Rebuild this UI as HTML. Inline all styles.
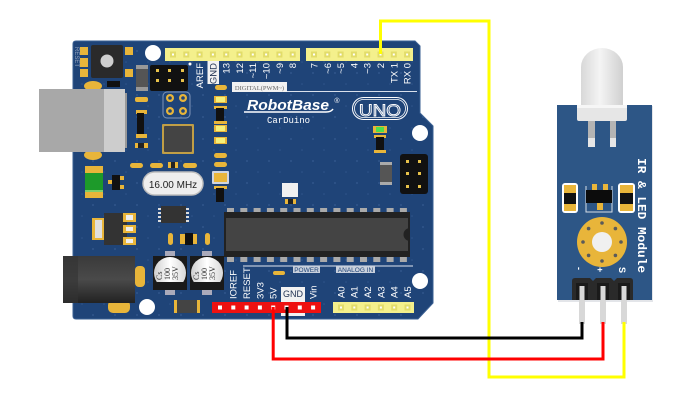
<!DOCTYPE html>
<html><head><meta charset="utf-8"><style>
html,body{margin:0;padding:0;background:#fff;}
svg{display:block;}
</style></head><body>
<svg width="700" height="409" viewBox="0 0 700 409" xmlns="http://www.w3.org/2000/svg" font-family="Liberation Sans, sans-serif">
<defs>
<linearGradient id="jack" x1="0" y1="0" x2="0" y2="1"><stop offset="0" stop-color="#3a3a3a"/><stop offset="0.5" stop-color="#4a4a4a"/><stop offset="1" stop-color="#222"/></linearGradient>
<linearGradient id="led" x1="0" y1="0" x2="1" y2="0"><stop offset="0" stop-color="#d8d8d8"/><stop offset="0.45" stop-color="#f4f4f4"/><stop offset="1" stop-color="#d0d0d0"/></linearGradient>
<linearGradient id="cap" x1="0" y1="0" x2="1" y2="0"><stop offset="0" stop-color="#cfcfcf"/><stop offset="0.5" stop-color="#ffffff"/><stop offset="1" stop-color="#d8d8d8"/></linearGradient>
<pattern id="dots" width="22" height="22" patternUnits="userSpaceOnUse"><circle cx="5" cy="7" r="1" fill="#3b6198"/><circle cx="16" cy="18" r="0.8" fill="#3b6198"/></pattern>
</defs>

<!-- Arduino board -->
<path d="M76,41 L415,41 L420,46 L420,113 L433,126 L433,303 L418,319 L76,319 Q73,319 73,316 L73,44 Q73,41 76,41 Z" fill="#1f4478" stroke="#3a5f92" stroke-width="1"/>
<path d="M76,41 L415,41 L420,46 L420,113 L433,126 L433,303 L418,319 L76,319 Q73,319 73,316 L73,44 Q73,41 76,41 Z" fill="url(#dots)" opacity="0.6"/>

<!-- mounting holes -->
<circle cx="153" cy="53" r="8" fill="#fff"/>
<circle cx="420" cy="133" r="8" fill="#fff"/>
<circle cx="147" cy="307" r="8" fill="#fff"/>
<circle cx="420" cy="281" r="8" fill="#fff"/>

<!-- reset button -->
<text transform="translate(75,47) rotate(90)" font-size="6" fill="#9aa8c0">RESET</text>
<rect x="80" y="47" width="8" height="8" fill="#e8b53a"/>
<rect x="80" y="58" width="8" height="9" fill="#e8b53a"/>
<rect x="80" y="69" width="8" height="8" fill="#e8b53a"/>
<rect x="125" y="47" width="8" height="8" fill="#e8b53a"/>
<rect x="125" y="69" width="8" height="8" fill="#e8b53a"/>
<rect x="91" y="45" width="32" height="33" rx="2" fill="#2a2a2a"/>
<circle cx="107" cy="61" r="6.5" fill="#cfcfcf"/>

<!-- diode near ICSP -->
<rect x="136" y="65" width="12" height="26" rx="1" fill="#555"/>
<rect x="136" y="65" width="12" height="4" fill="#999"/>
<rect x="136" y="87" width="12" height="4" fill="#999"/>

<!-- ICSP top-left -->
<rect x="150" y="65" width="38" height="26" rx="2" fill="#111"/>
<g fill="#e8c24a"><rect x="156" y="69" width="3" height="3"/><rect x="168" y="69" width="3" height="3"/><rect x="181" y="69" width="3" height="3"/>
<rect x="156" y="79" width="3" height="3"/><rect x="168" y="79" width="3" height="3"/><rect x="181" y="79" width="3" height="3"/></g>
<circle cx="190" cy="64" r="1.5" fill="#fff"/>

<!-- 2x2 ring pads -->
<rect x="163" y="92" width="27" height="26" rx="4" fill="none" stroke="#7f95b8" stroke-width="1"/>
<g fill="#e8b53a"><circle cx="170" cy="98" r="4"/><circle cx="183" cy="98" r="4"/><circle cx="170" cy="111" r="4"/><circle cx="183" cy="111" r="4"/></g>
<g fill="#1f4478"><circle cx="170" cy="98" r="1.8"/><circle cx="183" cy="98" r="1.8"/><circle cx="170" cy="111" r="1.8"/><circle cx="183" cy="111" r="1.8"/></g>

<!-- USB -->
<ellipse cx="93" cy="86" rx="9" ry="5" fill="#e8b53a"/>
<ellipse cx="93" cy="155" rx="9" ry="5" fill="#e8b53a"/>
<rect x="39" y="89" width="66" height="63" fill="#a8a8a8"/>
<rect x="104" y="89" width="21" height="63" fill="#cdcdcd"/>
<rect x="125" y="93" width="2" height="55" fill="#999"/>
<rect x="107" y="81" width="13" height="6" fill="#111"/>

<!-- left SMDs -->
<rect x="135" y="97" width="13" height="5" rx="2" fill="#e8b53a"/>
<rect x="136" y="110" width="11" height="4" fill="#e8b53a"/>
<rect x="137" y="113" width="7" height="23" fill="#111"/>
<rect x="136" y="134" width="11" height="4" fill="#e8b53a"/>
<rect x="135" y="143" width="13" height="5" fill="#e8b53a"/>
<rect x="138" y="143" width="6" height="5" fill="#222"/>

<!-- QFN chip -->
<rect x="162" y="124" width="32" height="30" rx="1" fill="#e8b53a" opacity="0.8"/>
<rect x="164" y="126" width="28" height="26" rx="1" fill="#444"/>

<!-- row of resistors -->
<rect x="130" y="163" width="13" height="5" rx="2.5" fill="#e8b53a"/>
<rect x="150" y="163" width="13" height="5" rx="2.5" fill="#e8b53a"/>
<rect x="168" y="162" width="10" height="6" fill="#e8b53a"/><rect x="171" y="162" width="4" height="6" fill="#222"/>
<rect x="183" y="163" width="14" height="5" rx="2.5" fill="#e8b53a"/>

<!-- crystal -->
<rect x="143" y="172" width="60" height="23" rx="11.5" fill="#eeeeee" stroke="#bdbdbd" stroke-width="1.5"/>
<text x="173" y="188" font-size="10" fill="#222" text-anchor="middle">16.00 MHz</text>

<!-- fuse -->
<rect x="85" y="166" width="18" height="32" fill="#e8b53a"/>
<rect x="85" y="173" width="18" height="17" fill="#1d9a2a"/>
<rect x="85" y="190" width="18" height="2" fill="#7fd06a"/>
<!-- small transistor -->
<rect x="112" y="175" width="8" height="15" fill="#111"/>
<rect x="120" y="176" width="4" height="4" fill="#e8b53a"/><rect x="120" y="185" width="4" height="4" fill="#e8b53a"/>
<rect x="108" y="180" width="4" height="4" fill="#e8b53a"/>

<!-- right vertical column -->
<rect x="215" y="85" width="12" height="5" rx="2.5" fill="#e8b53a"/>
<rect x="214" y="96" width="13" height="7" fill="#e8b53a"/><rect x="216" y="97" width="9" height="5" fill="#f5f07a"/>
<rect x="214" y="106" width="13" height="3" fill="#e8b53a"/><rect x="216" y="108" width="8" height="15" fill="#111"/><rect x="214" y="121" width="13" height="3" fill="#e8b53a"/>
<rect x="214" y="125" width="13" height="7" fill="#e8b53a"/><rect x="216" y="126" width="9" height="5" fill="#f5f07a"/>
<rect x="214" y="137" width="13" height="7" fill="#e8b53a"/><rect x="216" y="138" width="9" height="5" fill="#f5f07a"/>
<rect x="214" y="153" width="13" height="5" rx="2.5" fill="#e8b53a"/>
<rect x="214" y="162" width="13" height="5" rx="2.5" fill="#e8b53a"/>
<rect x="212" y="171" width="17" height="13" rx="1" fill="#cfd5e0"/><rect x="214" y="173" width="13" height="9" fill="#e8b53a"/>
<rect x="214" y="186" width="13" height="3" fill="#e8b53a"/><rect x="216" y="188" width="8" height="14" fill="#111"/>

<!-- top headers -->
<rect x="165" y="48" width="135" height="13" fill="#f4f08c"/>
<rect x="306" y="48" width="107" height="13" fill="#f4f08c"/>
<g fill="#e2dc6a">
<rect x="170" y="51.5" width="6" height="6"/><rect x="183.3" y="51.5" width="6" height="6"/><rect x="196.6" y="51.5" width="6" height="6"/><rect x="209.9" y="51.5" width="6" height="6"/><rect x="223.2" y="51.5" width="6" height="6"/><rect x="236.5" y="51.5" width="6" height="6"/><rect x="249.8" y="51.5" width="6" height="6"/><rect x="263.1" y="51.5" width="6" height="6"/><rect x="276.4" y="51.5" width="6" height="6"/><rect x="289.7" y="51.5" width="6" height="6"/>
<rect x="311" y="51.5" width="6" height="6"/><rect x="324.3" y="51.5" width="6" height="6"/><rect x="337.6" y="51.5" width="6" height="6"/><rect x="350.9" y="51.5" width="6" height="6"/><rect x="364.2" y="51.5" width="6" height="6"/><rect x="377.5" y="51.5" width="6" height="6"/><rect x="390.8" y="51.5" width="6" height="6"/><rect x="404.1" y="51.5" width="6" height="6"/>
</g>
<g fill="#fff">
<rect x="172" y="53.5" width="2" height="2"/><rect x="185.3" y="53.5" width="2" height="2"/><rect x="198.6" y="53.5" width="2" height="2"/><rect x="211.9" y="53.5" width="2" height="2"/><rect x="225.2" y="53.5" width="2" height="2"/><rect x="238.5" y="53.5" width="2" height="2"/><rect x="251.8" y="53.5" width="2" height="2"/><rect x="265.1" y="53.5" width="2" height="2"/><rect x="278.4" y="53.5" width="2" height="2"/><rect x="291.7" y="53.5" width="2" height="2"/>
<rect x="313" y="53.5" width="2" height="2"/><rect x="326.3" y="53.5" width="2" height="2"/><rect x="339.6" y="53.5" width="2" height="2"/><rect x="352.9" y="53.5" width="2" height="2"/><rect x="366.2" y="53.5" width="2" height="2"/><rect x="379.5" y="53.5" width="2" height="2"/><rect x="392.8" y="53.5" width="2" height="2"/><rect x="406.1" y="53.5" width="2" height="2"/>
</g>

<!-- top labels -->
<rect x="207.5" y="61" width="11.5" height="23" fill="#f2f2f2"/>
<g font-size="9.5" fill="#fff" text-anchor="end">
<text transform="translate(203,63) rotate(-90)">AREF</text>
<text transform="translate(216.5,63) rotate(-90)" fill="#1f3050">GND</text>
<text transform="translate(229.5,63) rotate(-90)">13</text>
<text transform="translate(243,63) rotate(-90)">12</text>
<text transform="translate(256,63) rotate(-90)">~11</text>
<text transform="translate(269.5,63) rotate(-90)">~10</text>
<text transform="translate(283,63) rotate(-90)">~9</text>
<text transform="translate(296,63) rotate(-90)">8</text>
<text transform="translate(317.5,63) rotate(-90)">7</text>
<text transform="translate(331,63) rotate(-90)">~6</text>
<text transform="translate(344,63) rotate(-90)">~5</text>
<text transform="translate(357.5,63) rotate(-90)">4</text>
<text transform="translate(370.5,63) rotate(-90)">~3</text>
<text transform="translate(384,63) rotate(-90)">2</text>
<text transform="translate(397.5,63) rotate(-90)">TX 1</text>
<text transform="translate(410.5,63) rotate(-90)">RX 0</text>
</g>

<!-- DIGITAL label and line -->
<rect x="232" y="82" width="55" height="10" fill="#f2f2f2"/>
<text x="259.5" y="90" font-size="6.5" font-family="Liberation Serif, serif" fill="#666" text-anchor="middle">DIGITAL(PWM~)</text>
<line x1="287" y1="91.5" x2="417" y2="91.5" stroke="#d8e0ec" stroke-width="1"/>

<!-- logo -->
<text x="247" y="110" font-size="14.5" font-weight="bold" font-style="italic" fill="#fff" textLength="82" lengthAdjust="spacingAndGlyphs">RobotBase</text>
<path d="M244,112 L326,112 Q331,112 333,109" fill="none" stroke="#fff" stroke-width="1.5"/>
<text x="337" y="103" font-size="7" fill="#fff" text-anchor="middle">®</text>
<text x="267" y="123" font-size="9" font-family="Liberation Mono, monospace" fill="#fff" textLength="43">CarDuino</text>
<rect x="352.5" y="97.5" width="55" height="22" rx="11" fill="none" stroke="#fff" stroke-width="1"/>
<rect x="354.5" y="99.5" width="51" height="18" rx="9" fill="none" stroke="#fff" stroke-width="0.8"/>
<text x="380" y="116" font-size="17" fill="none" stroke="#fff" stroke-width="0.9" text-anchor="middle" textLength="42" lengthAdjust="spacingAndGlyphs">UNO</text>

<!-- green LED and parts on right -->
<rect x="373" y="126" width="14" height="7" fill="#e8b53a"/><rect x="376" y="127" width="8" height="5" fill="#4ee04a"/>
<rect x="374" y="135" width="12" height="3" fill="#e8b53a"/><rect x="376" y="137" width="8" height="14" fill="#111"/><rect x="374" y="150" width="12" height="3" fill="#e8b53a"/>
<rect x="380" y="162" width="12" height="23" rx="1" fill="#555"/><rect x="380" y="162" width="12" height="3" fill="#aaa"/><rect x="380" y="182" width="12" height="3" fill="#aaa"/>
<!-- right ICSP -->
<rect x="400" y="154" width="28" height="40" rx="3" fill="#111"/>
<g fill="#e8c24a"><rect x="406" y="160" width="3" height="3"/><rect x="418" y="160" width="3" height="3"/><rect x="406" y="172" width="3" height="3"/><rect x="418" y="172" width="3" height="3"/><rect x="406" y="185" width="3" height="3"/><rect x="418" y="185" width="3" height="3"/></g>

<!-- white square -->
<rect x="282" y="183" width="16" height="14" fill="#f0f0f0"/>
<rect x="285" y="199" width="11" height="5" fill="#e8b53a"/><rect x="288" y="199" width="5" height="5" fill="#222"/>

<!-- voltage regulator -->
<rect x="92" y="218" width="14" height="22" fill="#e8b53a"/>
<rect x="95" y="220" width="7" height="18" fill="#e0e0e0"/>
<rect x="104" y="213" width="23" height="32" fill="#333"/>
<rect x="123" y="213" width="13" height="9" fill="#e8b53a"/><rect x="126" y="215" width="7" height="5" fill="#eee"/>
<rect x="123" y="225" width="13" height="8" fill="#e8b53a"/><rect x="126" y="227" width="7" height="4" fill="#eee"/>
<rect x="123" y="237" width="13" height="8" fill="#e8b53a"/><rect x="126" y="239" width="7" height="4" fill="#eee"/>

<!-- SOIC-8 -->
<g fill="#ddd"><rect x="158" y="208" width="4" height="2"/><rect x="158" y="212" width="4" height="2"/><rect x="158" y="216" width="4" height="2"/><rect x="158" y="220" width="4" height="2"/>
<rect x="185" y="208" width="4" height="2"/><rect x="185" y="212" width="4" height="2"/><rect x="185" y="216" width="4" height="2"/><rect x="185" y="220" width="4" height="2"/></g>
<rect x="161" y="206" width="25" height="17" fill="#333"/>
<!-- small parts -->
<rect x="168" y="233" width="5" height="12" rx="2.5" fill="#e8b53a"/>
<rect x="180" y="234" width="17" height="10" fill="#e8b53a"/><rect x="185" y="233" width="8" height="12" fill="#111"/>
<rect x="205" y="233" width="5" height="12" rx="2.5" fill="#e8b53a"/>

<!-- main IC -->
<g fill="#aaa">
<rect x="227" y="208" width="7" height="7"/><rect x="240.3" y="208" width="7" height="7"/><rect x="253.6" y="208" width="7" height="7"/><rect x="266.9" y="208" width="7" height="7"/><rect x="280.2" y="208" width="7" height="7"/><rect x="293.5" y="208" width="7" height="7"/><rect x="306.8" y="208" width="7" height="7"/><rect x="320.1" y="208" width="7" height="7"/><rect x="333.4" y="208" width="7" height="7"/><rect x="346.7" y="208" width="7" height="7"/><rect x="360" y="208" width="7" height="7"/><rect x="373.3" y="208" width="7" height="7"/><rect x="386.6" y="208" width="7" height="7"/><rect x="399.9" y="208" width="7" height="7"/>
<rect x="227" y="255" width="7" height="7"/><rect x="240.3" y="255" width="7" height="7"/><rect x="253.6" y="255" width="7" height="7"/><rect x="266.9" y="255" width="7" height="7"/><rect x="280.2" y="255" width="7" height="7"/><rect x="293.5" y="255" width="7" height="7"/><rect x="306.8" y="255" width="7" height="7"/><rect x="320.1" y="255" width="7" height="7"/><rect x="333.4" y="255" width="7" height="7"/><rect x="346.7" y="255" width="7" height="7"/><rect x="360" y="255" width="7" height="7"/><rect x="373.3" y="255" width="7" height="7"/><rect x="386.6" y="255" width="7" height="7"/><rect x="399.9" y="255" width="7" height="7"/>
</g>
<rect x="224" y="212" width="186" height="45" fill="#222"/>
<rect x="226" y="218" width="182" height="33" fill="#444"/>
<path d="M410,228 a6,6 0 0 0 0,13 Z" fill="#222"/>

<!-- POWER / ANALOG IN line -->
<line x1="243" y1="266" x2="413" y2="266" stroke="#e0e6f0" stroke-width="1"/>
<rect x="293" y="266" width="27" height="7" fill="#c8d0dc"/>
<text x="306.5" y="272" font-size="6.5" fill="#1f4478" text-anchor="middle">POWER</text>
<rect x="336" y="266" width="39" height="7" fill="#c8d0dc"/>
<text x="355.5" y="272" font-size="6.5" fill="#1f4478" text-anchor="middle">ANALOG IN</text>
<rect x="273" y="271" width="12" height="4" rx="2" fill="#e8b53a"/>

<!-- power jack -->
<rect x="135" y="266" width="10" height="21" rx="4" fill="#e8b53a"/>
<rect x="108" y="300" width="22" height="13" rx="5" fill="#e8b53a"/>
<rect x="63" y="256" width="72" height="47" fill="url(#jack)"/>
<rect x="63" y="256" width="15" height="47" fill="#333" opacity="0.6"/>

<!-- capacitors -->
<g>
<rect x="165" y="251" width="10" height="5" fill="#aab"/><rect x="165" y="290" width="10" height="5" fill="#aab"/>
<rect x="153" y="256" width="34" height="34" fill="#1a1a1a"/>
<circle cx="170" cy="273" r="16" fill="url(#cap)"/>
<path d="M156.5,282 A16,16 0 0 0 183.5,282 Z" fill="#1a1a1a"/>
<g font-family="Liberation Serif, serif" font-size="8" fill="#333">
<text transform="translate(162,280) rotate(-90)">Cs</text>
<text transform="translate(170,280) rotate(-90)">100</text>
<text transform="translate(178,280) rotate(-90)">35V</text></g>
</g>
<g>
<rect x="202" y="251" width="10" height="5" fill="#aab"/><rect x="202" y="290" width="10" height="5" fill="#aab"/>
<rect x="190" y="256" width="34" height="34" fill="#1a1a1a"/>
<circle cx="207" cy="273" r="16" fill="url(#cap)"/>
<path d="M193.5,282 A16,16 0 0 0 220.5,282 Z" fill="#1a1a1a"/>
<g font-family="Liberation Serif, serif" font-size="8" fill="#333">
<text transform="translate(199,280) rotate(-90)">Cs</text>
<text transform="translate(207,280) rotate(-90)">100</text>
<text transform="translate(215,280) rotate(-90)">35V</text></g>
</g>

<!-- bottom diode -->
<rect x="174" y="300" width="26" height="13" fill="#444"/>
<rect x="174" y="300" width="3" height="13" fill="#e8b53a"/><rect x="197" y="300" width="3" height="13" fill="#e8b53a"/>

<!-- power labels -->
<rect x="281" y="287" width="24" height="29" fill="#f2f2f2"/>
<text x="293" y="297" font-size="9" fill="#1f3050" text-anchor="middle">GND</text>
<g font-size="9.5" fill="#fff">
<text transform="translate(236.5,299) rotate(-90)">IOREF</text>
<text transform="translate(250,299) rotate(-90)">RESET</text>
<text transform="translate(263.5,299) rotate(-90)">3V3</text>
<text transform="translate(276.5,299) rotate(-90)">5V</text>
<text transform="translate(316.5,299) rotate(-90)">Vin</text>
<text transform="translate(344.5,298) rotate(-90)">A0</text>
<text transform="translate(357.5,298) rotate(-90)">A1</text>
<text transform="translate(371,298) rotate(-90)">A2</text>
<text transform="translate(384.5,298) rotate(-90)">A3</text>
<text transform="translate(397.5,298) rotate(-90)">A4</text>
<text transform="translate(411,298) rotate(-90)">A5</text>
</g>

<!-- power header -->
<rect x="212" y="302" width="109" height="11" fill="#ee1111"/>
<g fill="#fff">
<rect x="218" y="305.5" width="4" height="4"/><rect x="231.3" y="305.5" width="4" height="4"/><rect x="244.6" y="305.5" width="4" height="4"/><rect x="257.9" y="305.5" width="4" height="4"/><rect x="271.2" y="305.5" width="4" height="4"/><rect x="284.5" y="305.5" width="4" height="4"/><rect x="297.8" y="305.5" width="4" height="4"/><rect x="311.1" y="305.5" width="4" height="4"/>
</g>
<!-- analog header -->
<rect x="333" y="302" width="81" height="11" fill="#f4f08c"/>
<g fill="#e2dc6a"><rect x="338" y="304.5" width="6" height="6"/><rect x="351.3" y="304.5" width="6" height="6"/><rect x="364.6" y="304.5" width="6" height="6"/><rect x="377.9" y="304.5" width="6" height="6"/><rect x="391.2" y="304.5" width="6" height="6"/><rect x="404.5" y="304.5" width="6" height="6"/></g>
<g fill="#fff"><rect x="340" y="306.5" width="2" height="2"/><rect x="353.3" y="306.5" width="2" height="2"/><rect x="366.6" y="306.5" width="2" height="2"/><rect x="379.9" y="306.5" width="2" height="2"/><rect x="393.2" y="306.5" width="2" height="2"/><rect x="406.5" y="306.5" width="2" height="2"/></g>

<!-- IR module -->
<rect x="558" y="106" width="95" height="196" fill="#c8ccd4" opacity="0.5"/>
<rect x="557" y="105" width="95" height="195" fill="#2d5686"/>
<!-- LED legs -->
<path d="M588,121 L588,144 Q588,147 591,147 L595,147 L595,121 Z" fill="#b4b4b4"/>
<rect x="588" y="138" width="7" height="9" fill="#e6e6e6"/>
<path d="M610,121 L610,147 L616,147 L616,121 Z" fill="#b4b4b4"/>
<rect x="610" y="138" width="6" height="9" fill="#e6e6e6"/>
<!-- LED body -->
<path d="M581,107 L581,67 A21,19 0 0 1 623,67 L623,107 Z" fill="url(#led)"/>
<rect x="577" y="105" width="50" height="16" rx="2" fill="#e6e6e6"/>
<rect x="577" y="105" width="50" height="3" fill="#f6f6f6"/>
<!-- resistors -->
<rect x="562" y="183" width="16" height="30" rx="3" fill="#fff"/>
<rect x="564" y="185" width="12" height="8" fill="#e8b53a"/><rect x="564" y="193" width="12" height="11" fill="#111"/><rect x="564" y="204" width="12" height="7" fill="#e8b53a"/>
<rect x="618" y="183" width="17" height="30" rx="3" fill="#fff"/>
<rect x="620" y="185" width="13" height="8" fill="#e8b53a"/><rect x="620" y="193" width="13" height="11" fill="#111"/><rect x="620" y="204" width="13" height="7" fill="#e8b53a"/>
<!-- transistor -->
<path d="M586,186 L586,212 L612,212 L612,186" fill="none" stroke="#d8dde6" stroke-width="1"/>
<rect x="592" y="184" width="5" height="7" fill="#e8b53a"/><rect x="603" y="184" width="5" height="7" fill="#e8b53a"/>
<rect x="597" y="202" width="6" height="8" fill="#e8b53a"/>
<rect x="586" y="190" width="26" height="13" fill="#0c0c0c"/>
<!-- gold ring -->
<circle cx="602" cy="242" r="25" fill="#e8b53a"/>
<circle cx="602" cy="242" r="10" fill="#f0f0f0"/>
<g fill="#5a5a5a">
<circle cx="602" cy="223" r="1.8"/><circle cx="602" cy="261" r="1.8"/><circle cx="583" cy="242" r="1.8"/><circle cx="621" cy="242" r="1.8"/>
<circle cx="588.6" cy="228.6" r="1.8"/><circle cx="615.4" cy="228.6" r="1.8"/><circle cx="588.6" cy="255.4" r="1.8"/><circle cx="615.4" cy="255.4" r="1.8"/>
</g>
<!-- module text -->
<text transform="translate(638,158) rotate(90)" font-family="Liberation Mono, monospace" font-weight="bold" font-size="11.5" fill="#fff" textLength="115" lengthAdjust="spacingAndGlyphs">IR &amp; LED Module</text>
<g font-family="Liberation Sans, sans-serif" font-weight="bold" font-size="9" fill="#fff">
<text transform="translate(576,267) rotate(90)">-</text>
<text transform="translate(597,267) rotate(90)">+</text>
<text transform="translate(619,267) rotate(90)">S</text>
</g>
<!-- header pins -->
<rect x="579" y="290" width="6" height="34" fill="#d8d8d8"/>
<rect x="600" y="290" width="6" height="34" fill="#d8d8d8"/>
<rect x="621" y="290" width="6" height="34" fill="#d8d8d8"/>
<path d="M575,278 L590,278 L593,281 L596,278 L611,278 L614,281 L617,278 L630,278 Q633,278 633,281 L633,300 L572,300 L572,281 Q572,278 575,278 Z" fill="#2a2a2a"/>
<rect x="576" y="283" width="12" height="17" fill="#1a1a1a"/>
<rect x="597" y="283" width="12" height="17" fill="#1a1a1a"/>
<rect x="618" y="283" width="12" height="17" fill="#1a1a1a"/>
<rect x="579.5" y="286" width="5" height="14" fill="#d8d8d8"/>
<rect x="600.5" y="286" width="5" height="14" fill="#d8d8d8"/>
<rect x="621.5" y="286" width="5" height="14" fill="#d8d8d8"/>

<!-- wires -->
<polyline points="380.5,54 380.5,21 489,21 489,377 624,377 624,322" fill="none" stroke="#ffff00" stroke-width="3"/>
<polyline points="287,307 287,338 582,338 582,322" fill="none" stroke="#000" stroke-width="3"/>
<polyline points="273.2,307 273.2,359 603,359 603,322" fill="none" stroke="#ff0000" stroke-width="3"/>
</svg>
</body></html>
